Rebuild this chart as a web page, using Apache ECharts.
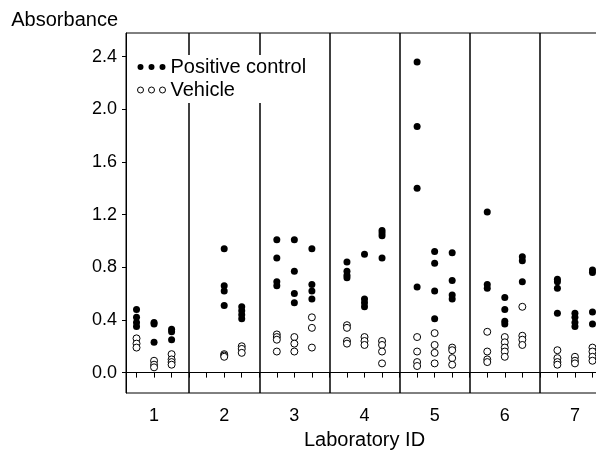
<!DOCTYPE html>
<html>
<head>
<meta charset="utf-8">
<script src="https://cdn.jsdelivr.net/npm/echarts@6/dist/echarts.min.js"></script>
<style>
  html, body { margin: 0; padding: 0; background: #fff; }
  #main { width: 596px; height: 460px; }
</style>
</head>
<body>
<div id="main"></div>
<script>
const labIds = [1, 2, 3, 4, 5, 6, 7];
const runOffsets = [-0.25, 0, 0.25];
const dividers = [1.5, 2.5, 3.5, 4.5, 5.5, 6.5];
const yTicks = [0, 0.4, 0.8, 1.2, 1.6, 2.0, 2.4];

// absorbance per lab, three runs per lab
const positiveControl = [
  [[0.48, 0.42, 0.38, 0.35], [0.38, 0.37, 0.23], [0.33, 0.31, 0.25]],
  [[], [0.94, 0.66, 0.62, 0.51], [0.50, 0.47, 0.44, 0.41]],
  [[1.01, 0.87, 0.69, 0.66], [1.01, 0.77, 0.60, 0.53], [0.94, 0.67, 0.62, 0.56]],
  [[0.84, 0.77, 0.74, 0.72], [0.90, 0.56, 0.53, 0.50], [1.08, 1.06, 1.04, 0.87]],
  [[2.36, 1.87, 1.40, 0.65], [0.92, 0.83, 0.62, 0.41], [0.91, 0.70, 0.59, 0.56]],
  [[1.22, 0.67, 0.64], [0.57, 0.48, 0.39, 0.37], [0.88, 0.85, 0.69]],
  [[0.71, 0.69, 0.64, 0.45], [0.45, 0.42, 0.38, 0.35], [0.78, 0.76, 0.46, 0.37]]
];
const vehicle = [
  [[0.26, 0.22, 0.19], [0.09, 0.06, 0.04], [0.14, 0.10, 0.08, 0.06]],
  [[], [0.14, 0.13, 0.12], [0.20, 0.18, 0.15]],
  [[0.29, 0.27, 0.25, 0.16], [0.27, 0.22, 0.16], [0.42, 0.34, 0.19]],
  [[0.36, 0.34, 0.24, 0.22], [0.27, 0.24, 0.21], [0.24, 0.21, 0.16, 0.07]],
  [[0.27, 0.16, 0.08, 0.05], [0.30, 0.21, 0.15, 0.07], [0.19, 0.17, 0.11, 0.06]],
  [[0.31, 0.16, 0.10, 0.08], [0.27, 0.23, 0.19, 0.16, 0.12], [0.50, 0.28, 0.25, 0.21]],
  [[0.17, 0.11, 0.08, 0.06], [0.12, 0.09, 0.07], [0.19, 0.16, 0.12, 0.09]]
];

function toPoints(groups) {
  const pts = [];
  groups.forEach((runs, i) => {
    runs.forEach((vals, j) => {
      vals.forEach(v => pts.push([labIds[i] + runOffsets[j], v]));
    });
  });
  return pts;
}

// ticks under each run plus the lab dividers
const xTicks = [];
labIds.forEach(id => {
  runOffsets.forEach(o => xTicks.push(id + o));
  if (id + 0.5 < 7.4) xTicks.push(id + 0.5);
});

const threeDots = 'path://M0,3A3,3,0,1,1,6,3A3,3,0,1,1,0,3Z' +
  'M11,3A3,3,0,1,1,17,3A3,3,0,1,1,11,3Z' +
  'M22,3A3,3,0,1,1,28,3A3,3,0,1,1,22,3Z';

const myChart = echarts.init(document.getElementById('main'));
const option = {
  animation: false,
  textStyle: { fontFamily: 'Liberation Sans, Arial, sans-serif', color: '#000' },
  grid: {
    left: 126, top: 33, right: -7, bottom: 67,
    outerBoundsMode: 'none',
    containLabel: false,
    show: true, borderColor: '#000', borderWidth: 1
  },
  legend: {
    orient: 'vertical',
    left: 135,
    top: 55,
    z: 20,
    padding: [2, 6, 3, 2],
    backgroundColor: '#ffffff',
    borderWidth: 0,
    itemWidth: 28,
    itemHeight: 6,
    itemGap: 3,
    textStyle: { fontSize: 20, color: '#000', lineHeight: 20 },
    data: [
      { name: 'Positive control', icon: threeDots, itemStyle: { color: '#000', borderWidth: 0, opacity: 1 } },
      { name: 'Vehicle', icon: threeDots, itemStyle: { color: '#fff', borderColor: '#000', borderWidth: 1, opacity: 1 } }
    ]
  },
  xAxis: {
    type: 'value',
    min: 0.6,
    max: 7.4,
    name: 'Laboratory ID',
    nameLocation: 'middle',
    nameGap: 37,
    nameTextStyle: { fontSize: 20, color: '#000' },
    axisLine: { show: true, lineStyle: { color: '#000', width: 1 } },
    axisTick: { show: true, customValues: xTicks, length: 5, lineStyle: { color: '#000' } },
    axisLabel: {
      customValues: labIds,
      fontSize: 18,
      color: '#000',
      margin: 14,
      formatter: v => String(v)
    },
    splitLine: { show: false }
  },
  yAxis: {
    type: 'value',
    min: -0.155,
    max: 2.58,
    name: 'Absorbance',
    nameLocation: 'end',
    nameGap: 3,
    nameTextStyle: { fontSize: 20, color: '#000', align: 'right', padding: [0, 8, 0, 0] },
    axisLine: { show: true, lineStyle: { color: '#000', width: 1 } },
    axisTick: { show: true, customValues: yTicks, length: 4, lineStyle: { color: '#000' } },
    axisLabel: {
      customValues: yTicks,
      fontSize: 18,
      color: '#000',
      margin: 9,
      formatter: v => v.toFixed(1)
    },
    splitLine: { show: false }
  },
  series: [
    {
      name: 'Positive control',
      type: 'scatter',
      data: toPoints(positiveControl),
      symbol: 'circle',
      symbolSize: 7,
      itemStyle: { color: '#000', opacity: 1 },
      markLine: {
        silent: true,
        z: 1,
        symbol: 'none',
        label: { show: false },
        lineStyle: { color: '#000', width: 1.5, type: 'solid' },
        data: dividers.map(v => ({ xAxis: v }))
      }
    },
    {
      name: 'Vehicle',
      type: 'scatter',
      data: toPoints(vehicle),
      symbol: 'circle',
      symbolSize: 7,
      itemStyle: { color: '#fff', borderColor: '#000', borderWidth: 1, opacity: 1 }
    }
  ]
};
myChart.setOption(option);
</script>
</body>
</html>
